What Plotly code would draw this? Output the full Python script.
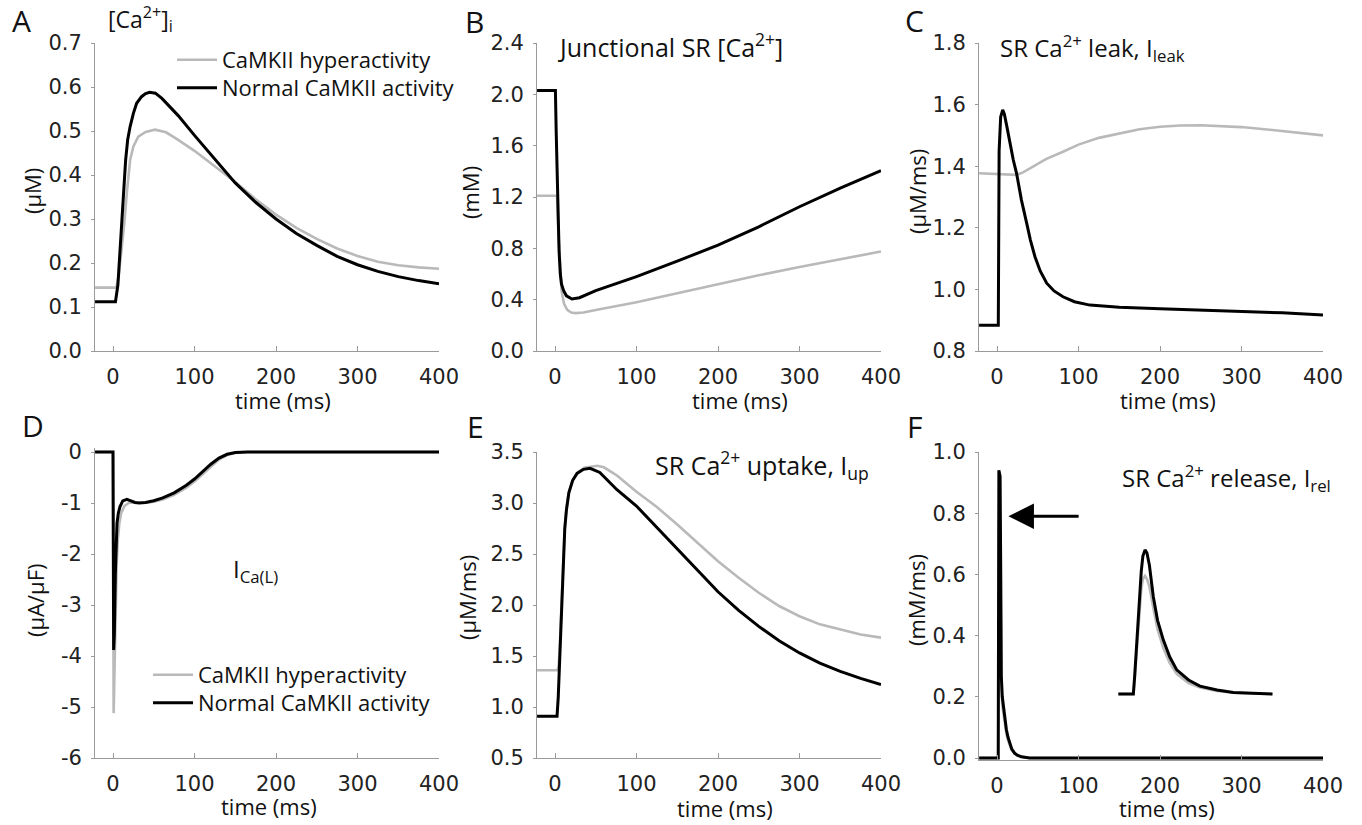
import plotly.graph_objects as go

# ---------------- data ----------------
# Panel A: cytosolic [Ca2+]i (uM)
tA_hyper = [-22, 4, 7, 10, 13.5, 17, 21, 25, 31, 40, 51.5, 65, 80, 100, 125, 150, 175, 200, 225, 250, 275, 300, 325, 350, 375, 400]
vA_hyper = [0.144, 0.144, 0.17, 0.22, 0.283, 0.36, 0.434, 0.465, 0.487, 0.498, 0.503, 0.497, 0.48, 0.455, 0.42, 0.384, 0.345, 0.31, 0.28, 0.255, 0.233, 0.216, 0.203, 0.195, 0.19, 0.187]
tA_norm = [-22, 3, 6, 8, 10.6, 13, 15.5, 18, 21, 25, 29, 35, 40, 45, 52, 60, 80, 100, 125, 150, 175, 200, 225, 250, 275, 300, 325, 350, 375, 400]
vA_norm = [0.112, 0.112, 0.15, 0.21, 0.283, 0.37, 0.434, 0.48, 0.51, 0.54, 0.563, 0.578, 0.585, 0.588, 0.586, 0.574, 0.535, 0.49, 0.435, 0.382, 0.338, 0.30, 0.267, 0.24, 0.215, 0.196, 0.181, 0.169, 0.16, 0.153]

# Panel B: junctional SR [Ca2+] (mM)
tB_hyper = [-22, 2.5, 4, 6, 8, 11, 15, 20, 25, 35, 50, 100, 150, 200, 250, 300, 350, 400]
vB_hyper = [1.21, 1.21, 0.95, 0.65, 0.47, 0.37, 0.32, 0.30, 0.295, 0.30, 0.32, 0.38, 0.45, 0.525, 0.59, 0.655, 0.715, 0.775]
tB_norm = [-22, 0.5, 1.5, 3.3, 5, 6.5, 8, 10.6, 14, 20.8, 30, 50, 75, 100, 150, 200, 250, 300, 350, 400]
vB_norm = [2.03, 2.03, 1.7, 1.12, 0.78, 0.6, 0.52, 0.47, 0.43, 0.405, 0.415, 0.47, 0.525, 0.58, 0.70, 0.825, 0.968, 1.124, 1.27, 1.405]

# Panel C: SR Ca2+ leak (uM/ms)
tC_hyper = [-22, 10, 24, 32, 40.5, 50, 60, 81, 100, 125, 151, 175, 200, 225, 250, 275, 300, 325, 350, 375, 400]
vC_hyper = [1.377, 1.374, 1.372, 1.38, 1.393, 1.408, 1.423, 1.447, 1.47, 1.492, 1.507, 1.52, 1.528, 1.532, 1.533, 1.531, 1.527, 1.521, 1.514, 1.507, 1.50]
tC_norm = [-22, 1.6, 2.6, 4.5, 7, 9, 12, 16, 20, 24, 30, 36.4, 41, 46.6, 53, 61, 70, 81, 95, 114, 150, 200, 250, 300, 350, 400]
vC_norm = [0.884, 0.884, 1.45, 1.56, 1.583, 1.57, 1.53, 1.47, 1.42, 1.377, 1.29, 1.215, 1.16, 1.106, 1.06, 1.02, 0.995, 0.976, 0.96, 0.949, 0.942, 0.937, 0.933, 0.93, 0.924, 0.917]

# Panel D: L-type Ca2+ current (uA/uF)
tD_hyper = [-22, 0, 0.8, 1.6, 3, 4.5, 6, 7.8, 10, 14, 20, 26, 32, 40, 50, 61, 75, 90, 100, 110, 120, 130, 140, 150, 165, 400]
vD_hyper = [0, 0, -5.12, -4.5, -3.2, -2.2, -1.7, -1.4, -1.2, -1.06, -0.99, -0.99, -1.0, -0.995, -0.975, -0.93, -0.84, -0.7, -0.58, -0.44, -0.29, -0.15, -0.06, -0.018, 0, 0]
tD_norm = [-22, 0, 0.8, 1.6, 2.9, 4, 4.9, 6.5, 8.6, 12, 17, 22, 27, 32, 40, 50, 61, 75, 90, 100, 110, 120, 130, 140, 150, 165, 400]
vD_norm = [0, 0, -3.88, -3.6, -2.38, -1.8, -1.40, -1.2, -1.07, -0.96, -0.93, -0.96, -0.99, -1.0, -0.99, -0.955, -0.9, -0.8, -0.65, -0.53, -0.39, -0.24, -0.12, -0.045, -0.012, 0, 0]

# Panel E: SR Ca2+ uptake (uM/ms)
tE_hyper = [-22, 3, 4.5, 6, 8, 10, 12, 14, 17, 22, 28, 36, 45, 52, 60, 76, 100, 125, 150, 175, 200, 225, 250, 275, 300, 325, 350, 375, 400]
vE_hyper = [1.36, 1.36, 1.4, 1.6, 2.02, 2.45, 2.76, 2.94, 3.11, 3.23, 3.3, 3.345, 3.36, 3.365, 3.35, 3.27, 3.11, 2.96, 2.79, 2.61, 2.43, 2.27, 2.12, 1.99, 1.89, 1.81, 1.76, 1.71, 1.68]
tE_norm = [-22, 2.5, 4, 6, 8, 10, 12, 14, 17, 21.6, 27, 35, 43, 55, 76, 100, 125, 150, 175, 200, 225, 250, 275, 300, 325, 350, 375, 400]
vE_norm = [0.91, 0.91, 1.1, 1.5, 2.0, 2.44, 2.75, 2.93, 3.1, 3.22, 3.29, 3.33, 3.34, 3.3, 3.13, 2.97, 2.76, 2.54, 2.33, 2.13, 1.95, 1.79, 1.65, 1.53, 1.43, 1.35, 1.28, 1.22]

# Panel F: SR Ca2+ release (mM/ms), main trace and magnified inset
tF_hyper = [-22, 1.5, 2.3, 3.8, 4.6, 5.3, 6.5, 8.2, 10, 11.5, 13.5, 15.5, 18, 21.6, 25, 30, 40, 400]
vF_hyper = [0, 0, 0.78, 0.76, 0.5, 0.23, 0.17, 0.135, 0.1, 0.08, 0.058, 0.042, 0.026, 0.014, 0.008, 0.003, 0, 0]
tF_norm = [-22, 1.5, 2.3, 3.8, 4.6, 5.3, 6.5, 8.2, 10, 11.5, 13.5, 15.5, 18, 21.6, 25, 30, 40, 400]
vF_norm = [0, 0, 0.94, 0.92, 0.6, 0.267, 0.2, 0.158, 0.12, 0.093, 0.068, 0.049, 0.03, 0.016, 0.009, 0.004, 0, 0]
tF_inset = [148.9, 167.3, 169, 171, 173, 175, 177, 179, 181.6, 184, 187, 191.8, 197, 204, 212, 220.5, 235, 249, 270, 290, 315, 338]
vF_inset_hyper = [0.209, 0.209, 0.26, 0.34, 0.42, 0.49, 0.55, 0.585, 0.595, 0.585, 0.56, 0.49, 0.42, 0.36, 0.31, 0.275, 0.245, 0.23, 0.219, 0.213, 0.21, 0.209]
vF_inset_norm = [0.209, 0.209, 0.27, 0.36, 0.45, 0.54, 0.61, 0.66, 0.68, 0.67, 0.63, 0.527, 0.45, 0.386, 0.33, 0.288, 0.255, 0.235, 0.222, 0.214, 0.211, 0.209]
arrow_from = (102, 0.79)
arrow_to = (14, 0.79)

series_names = ["CaMKII hyperactivity", "Normal CaMKII activity"]
x_ticks = [0, 100, 200, 300, 400]
x_range = [-22, 400]
D_tickvals = [0, -1, -2, -3, -4, -5, -6]
D_ticktext = ["0", "-1", "-2", "-3", "-4", "-5", "-6"]

# ---------------- styling / layout helpers ----------------
W, H = 1362, 825
GRAY = "#b9b9b9"
BLACK = "#000000"
AXIS = "#9a9a9a"
TICKFONT = dict(family="DejaVu Sans", size=21, color="#222222")
TXT = "Open Sans"

def fx(p):
    return p / W

def fy(p):
    return 1 - p / H

# column pixel positions of t=0 and t=400
cols = [(113, 439), (555, 881), (997, 1323)]

def xdomain(c):
    p0, p400 = cols[c]
    s = (p400 - p0) / 400.0
    left = p0 + x_range[0] * s
    right = p0 + x_range[1] * s
    return [fx(left), fx(right)]

def ydomain(v_lo, p_lo, v_hi, p_hi, rng):
    s = (p_lo - p_hi) / (v_hi - v_lo)
    bottom = p_lo + (v_lo - rng[0]) * s
    top = p_lo - (rng[1] - v_lo) * s
    return [fy(bottom), fy(top)]

panels = [
    dict(col=0, yinfo=(0.0, 351, 0.7, 43), yr=[0, 0.7], dt=0.1, data=(tA_hyper, vA_hyper, tA_norm, vA_norm)),
    dict(col=1, yinfo=(0.0, 351, 2.4, 43), yr=[0, 2.4], dt=0.4, data=(tB_hyper, vB_hyper, tB_norm, vB_norm)),
    dict(col=2, yinfo=(0.8, 351, 1.8, 43), yr=[0.8, 1.8], dt=0.2, data=(tC_hyper, vC_hyper, tC_norm, vC_norm)),
    dict(col=0, yinfo=(-6, 758, 0, 452), yr=[-6, 0.08], dt=1, data=(tD_hyper, vD_hyper, tD_norm, vD_norm)),
    dict(col=1, yinfo=(0.5, 758, 3.5, 452), yr=[0.5, 3.5], dt=0.5, data=(tE_hyper, vE_hyper, tE_norm, vE_norm)),
    dict(col=2, yinfo=(0.0, 758, 1.0, 452), yr=[-0.007, 1.0], dt=0.2, data=(tF_hyper, vF_hyper, tF_norm, vF_norm)),
]

# one legend per legend row, so each row sits where the reference has it
legend_of = {(0, 0): "legend", (0, 1): "legend3", (3, 0): "legend2", (3, 1): "legend4"}

fig = go.Figure()
layout = dict(
    width=W, height=H, margin=dict(l=0, r=0, t=0, b=0, pad=0, autoexpand=False),
    paper_bgcolor="white", plot_bgcolor="white", showlegend=True,
)

for i, p in enumerate(panels):
    k = "" if i == 0 else str(i + 1)
    xa, ya = "x" + k, "y" + k
    th, vh, tn, vn = p["data"]
    for j, (tt, vv, col, lw) in enumerate([(th, vh, GRAY, 2.6), (tn, vn, BLACK, 3)]):
        leg = legend_of.get((i, j))
        fig.add_trace(go.Scatter(x=tt, y=vv, mode="lines", line=dict(color=col, width=lw),
                                 name=series_names[j], xaxis=xa, yaxis=ya,
                                 showlegend=leg is not None, legend=leg if leg else "legend",
                                 hoverinfo="skip"))
    if i == 5:
        fig.add_trace(go.Scatter(x=tF_inset, y=vF_inset_hyper, mode="lines", line=dict(color=GRAY, width=2.6),
                                 xaxis=xa, yaxis=ya, showlegend=False, hoverinfo="skip"))
        fig.add_trace(go.Scatter(x=tF_inset, y=vF_inset_norm, mode="lines", line=dict(color=BLACK, width=3),
                                 xaxis=xa, yaxis=ya, showlegend=False, hoverinfo="skip"))
    layout["xaxis" + k] = dict(
        domain=xdomain(p["col"]), range=x_range, anchor=ya, tickvals=x_ticks,
        showline=True, linecolor=AXIS, linewidth=1, ticks="inside", ticklen=5, tickcolor=AXIS,
        showgrid=False, zeroline=False, tickfont=TICKFONT, ticklabelstandoff=7, automargin=False,
    )
    yd = dict(
        domain=ydomain(p["yinfo"][0], p["yinfo"][1], p["yinfo"][2], p["yinfo"][3], p["yr"]),
        range=p["yr"], anchor=xa, showline=True, linecolor=AXIS, linewidth=1,
        ticks="outside", ticklen=3, tickcolor=AXIS, showgrid=False, zeroline=False,
        tickfont=TICKFONT, ticklabelstandoff=5, automargin=False,
    )
    if i == 3:
        yd.update(tickvals=D_tickvals, ticktext=D_ticktext)
    else:
        yd.update(tick0=p["yinfo"][0], dtick=p["dt"], tickformat=".1f")
    layout["yaxis" + k] = yd

legend_font = dict(family=TXT, size=22, color="#111111")
def legend_at(px, py_center):
    return dict(x=fx(px), y=fy(py_center - 21), xanchor="left", yanchor="top", font=legend_font,
                bgcolor="rgba(0,0,0,0)", borderwidth=0, tracegroupgap=0, itemwidth=40)

layout["legend"] = legend_at(172, 60)
layout["legend3"] = legend_at(172, 88)
layout["legend2"] = legend_at(148, 675)
layout["legend4"] = legend_at(148, 703)

ann = []
def text(px, py, s, size=21, xanchor="left", yanchor="middle", angle=0, family=TXT):
    ann.append(dict(x=fx(px), y=fy(py), xref="paper", yref="paper", text=s, showarrow=False,
                    xanchor=xanchor, yanchor=yanchor, textangle=angle,
                    font=dict(family=family, size=size, color="#111111")))

# panel letters
for lab, (px, py) in zip("ABCDEF", [(10, 20), (463, 22), (903, 20), (20, 425), (465, 426), (905, 426)]):
    text(px, py, lab, size=30)

# panel titles
text(106, 19, "[Ca<sup>2+</sup>]<sub>i</sub>", size=23)
text(556, 45, "Junctional SR [Ca<sup>2+</sup>]", size=25)
text(998, 48, "SR Ca<sup>2+</sup> leak, I<sub>leak</sub>", size=24)
text(231, 570, "I<sub>Ca(L)</sub>", size=24)
text(653, 465, "SR Ca<sup>2+</sup> uptake, I<sub>up</sub>", size=25)
text(1120, 478, "SR Ca<sup>2+</sup> release, I<sub>rel</sub>", size=24)

# y-axis titles
for s, (px, py) in zip(["(µM)", "(mM)", "(µM/ms)", "(µA/µF)", "(µM/ms)", "(mM/ms)"],
                       [(32, 191), (470, 193), (917, 192), (35, 600), (467, 598), (916, 600)]):
    text(px, py, s, size=22, xanchor="center", angle=-90)

# x-axis titles
for px, py in [(283, 400), (740, 400), (1168, 400), (269, 806), (725, 808), (1167, 808)]:
    text(px, py, "time (ms)", size=22, xanchor="center")

# arrow in panel F (data coordinates)
ann.append(dict(x=arrow_to[0], y=arrow_to[1], ax=arrow_from[0], ay=arrow_from[1],
                xref="x6", yref="y6", axref="x6", ayref="y6", text="", showarrow=True,
                arrowhead=2, arrowsize=1.7, arrowwidth=3, arrowcolor="#000000"))

layout["annotations"] = ann
fig.update_layout(**layout)
fig.write_html(
    "out.html",
    config={"displayModeBar": False},
    post_script="document.body.style.margin='0';document.body.style.overflow='hidden';"
                "document.documentElement.style.overflow='hidden';",
)
